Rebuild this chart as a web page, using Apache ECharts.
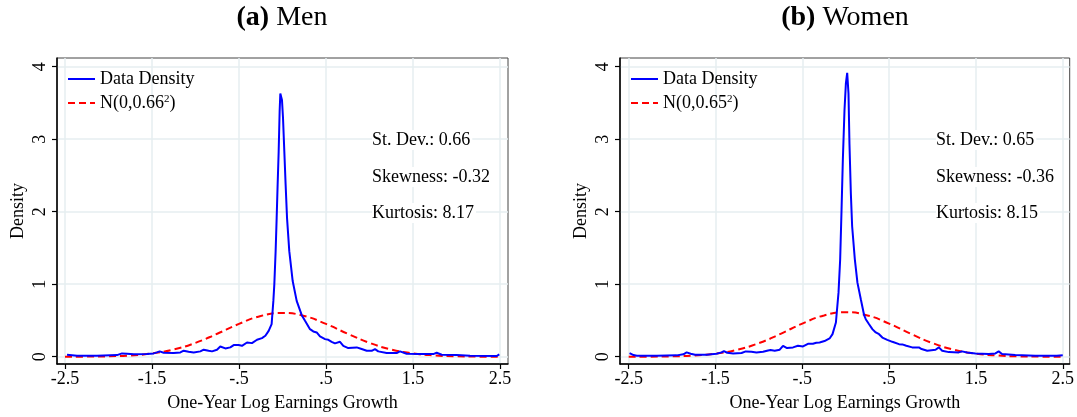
<!DOCTYPE html>
<html>
<head>
<meta charset="utf-8">
<script src="https://cdn.jsdelivr.net/npm/echarts@6/dist/echarts.min.js"></script>
<style>
  html, body { margin: 0; padding: 0; background: #fff; }
  #chart { width: 1077px; height: 417px; }
</style>
</head>
<body>
<div id="chart"></div>
<script>
// tick values and labels (Stata style: no leading zero)
var xTicks = [-2.5, -1.5, -0.5, 0.5, 1.5, 2.5];
var xTickLabels = ['-2.5', '-1.5', '-.5', '.5', '1.5', '2.5'];
var yTicks = [0, 1, 2, 3, 4];

// kernel density of one-year log earnings growth
var menDensity = [
  [-2.477, 0.028], [-2.362, 0.014], [-2.132, 0.014], [-1.902, 0.023], [-1.845, 0.046], [-1.825, 0.069],
  [-1.787, 0.042], [-1.71, 0.033], [-1.557, 0.037], [-1.481, 0.046], [-1.443, 0.06], [-1.412, 0.074],
  [-1.366, 0.055], [-1.251, 0.051], [-1.174, 0.06], [-1.136, 0.083], [-1.079, 0.069], [-1.021, 0.06],
  [-0.944, 0.074], [-0.906, 0.097], [-0.849, 0.083], [-0.81, 0.074], [-0.753, 0.097], [-0.715, 0.142],
  [-0.657, 0.115], [-0.6, 0.129], [-0.561, 0.161], [-0.504, 0.161], [-0.466, 0.151], [-0.408, 0.197],
  [-0.351, 0.188], [-0.293, 0.234], [-0.236, 0.257], [-0.197, 0.289], [-0.159, 0.357], [-0.125, 0.449],
  [-0.105, 0.77], [-0.094, 0.998], [-0.079, 1.456], [-0.067, 1.915], [-0.056, 2.37], [-0.044, 2.83],
  [-0.033, 3.38], [-0.025, 3.63], [-0.006, 3.54], [0.006, 3.29], [0.021, 2.83], [0.036, 2.37],
  [0.052, 1.915], [0.078, 1.456], [0.117, 1.044], [0.163, 0.77], [0.221, 0.573], [0.259, 0.495],
  [0.316, 0.38], [0.354, 0.349], [0.393, 0.335], [0.431, 0.28], [0.489, 0.243], [0.527, 0.234],
  [0.565, 0.206], [0.603, 0.184], [0.661, 0.206], [0.699, 0.151], [0.756, 0.12], [0.853, 0.129],
  [0.91, 0.106], [0.968, 0.082], [1.025, 0.082], [1.063, 0.106], [1.101, 0.074], [1.197, 0.051],
  [1.312, 0.051], [1.35, 0.074], [1.427, 0.041], [1.58, 0.037], [1.733, 0.037], [1.772, 0.055],
  [1.83, 0.027], [2.002, 0.023], [2.155, 0.014], [2.462, 0.01], [2.492, 0.033]
];
var womenDensity = [
  [-2.49, 0.051], [-2.444, 0.023], [-2.406, 0.014], [-2.176, 0.014], [-1.947, 0.019], [-1.87, 0.033],
  [-1.832, 0.06], [-1.813, 0.078], [-1.786, 0.042], [-1.736, 0.028], [-1.602, 0.028], [-1.488, 0.042],
  [-1.43, 0.06], [-1.403, 0.078], [-1.365, 0.055], [-1.296, 0.046], [-1.2, 0.051], [-1.151, 0.074],
  [-1.131, 0.092], [-1.086, 0.069], [-1.028, 0.06], [-0.952, 0.069], [-0.894, 0.087], [-0.867, 0.092],
  [-0.818, 0.083], [-0.76, 0.097], [-0.722, 0.151], [-0.676, 0.12], [-0.607, 0.129], [-0.55, 0.151],
  [-0.492, 0.142], [-0.435, 0.179], [-0.378, 0.179], [-0.339, 0.193], [-0.301, 0.197], [-0.244, 0.216],
  [-0.186, 0.252], [-0.152, 0.312], [-0.113, 0.472], [-0.083, 0.884], [-0.064, 1.342], [-0.048, 2.029],
  [-0.033, 2.716], [-0.014, 3.402], [0.002, 3.77], [0.017, 3.915], [0.032, 3.63], [0.043, 2.945],
  [0.059, 2.258], [0.074, 1.8], [0.105, 1.342], [0.135, 1.022], [0.174, 0.793], [0.212, 0.573],
  [0.231, 0.518], [0.269, 0.449], [0.307, 0.381], [0.346, 0.335], [0.384, 0.311], [0.422, 0.265],
  [0.479, 0.233], [0.537, 0.206], [0.614, 0.174], [0.652, 0.17], [0.671, 0.197], [0.698, 0.151],
  [0.766, 0.129], [0.843, 0.129], [0.874, 0.106], [0.939, 0.082], [1.035, 0.096], [1.073, 0.129],
  [1.111, 0.082], [1.188, 0.064], [1.302, 0.06], [1.34, 0.074], [1.36, 0.092], [1.398, 0.06],
  [1.494, 0.046], [1.647, 0.037], [1.724, 0.046], [1.762, 0.074], [1.8, 0.037], [1.953, 0.023],
  [2.183, 0.014], [2.431, 0.014], [2.5, 0.02]
];

// normal reference curves, sampled every 0.25
var normalX = [-2.5, -2.25, -2, -1.75, -1.5, -1.25, -1, -0.75, -0.5, -0.25, 0,
  0.25, 0.5, 0.75, 1, 1.25, 1.5, 1.75, 2, 2.25, 2.5];
var menNormal = [0.0005, 0.0018, 0.0061, 0.018, 0.046, 0.100, 0.192, 0.317, 0.453, 0.562, 0.604,
  0.562, 0.453, 0.317, 0.192, 0.100, 0.046, 0.018, 0.0061, 0.0018, 0.0005];
var womenNormal = [0.0004, 0.0015, 0.0054, 0.0164, 0.043, 0.097, 0.188, 0.316, 0.457, 0.570, 0.614,
  0.570, 0.457, 0.316, 0.188, 0.097, 0.043, 0.0164, 0.0054, 0.0015, 0.0004];

var menStats = ['St. Dev.: 0.66', 'Skewness: -0.32', 'Kurtosis: 8.17'];
var womenStats = ['St. Dev.: 0.65', 'Skewness: -0.36', 'Kurtosis: 8.15'];

var FONT = 'Liberation Serif';

function pairs(xs, ys) {
  return xs.map(function (x, i) { return [x, ys[i]]; });
}

function xLabel(v) {
  for (var i = 0; i < xTicks.length; i++) {
    if (Math.abs(xTicks[i] - v) < 1e-6) return xTickLabels[i];
  }
  return '';
}

function xAxisFor(idx, min, max) {
  return {
    gridIndex: idx, type: 'value', min: min, max: max,
    axisLine: { show: true, onZero: false, lineStyle: { color: '#000', width: 1.5 } },
    axisTick: { show: true, customValues: xTicks, length: 5, lineStyle: { color: '#000', width: 1.2 } },
    axisLabel: { customValues: xTicks, formatter: xLabel, fontFamily: FONT, fontSize: 18, color: '#000', margin: 6 },
    splitLine: { show: true, lineStyle: { color: '#e6eef0', width: 1.5 } },
    name: 'One-Year Log Earnings Growth', nameLocation: 'middle', nameGap: 30,
    nameTextStyle: { fontFamily: FONT, fontSize: 18, color: '#000' }
  };
}

function yAxisFor(idx) {
  return {
    gridIndex: idx, type: 'value', min: -0.1, max: 4.12,
    axisLine: { show: true, onZero: false, lineStyle: { color: '#000', width: 1.5 } },
    axisTick: { show: true, customValues: yTicks, length: 5, lineStyle: { color: '#000', width: 1.2 } },
    axisLabel: { customValues: yTicks, rotate: 90, fontFamily: FONT, fontSize: 18, color: '#000', margin: 8 },
    splitLine: { show: true, lineStyle: { color: '#e6eef0', width: 1.5 } },
    name: 'Density', nameLocation: 'middle', nameGap: 30, nameRotate: 90,
    nameTextStyle: { fontFamily: FONT, fontSize: 18, color: '#000' }
  };
}

function legendFor(left, normalName) {
  return {
    orient: 'vertical', left: left, top: 70, padding: 0,
    data: ['Data Density', normalName],
    itemWidth: 27, itemHeight: 12, itemGap: 6,
    itemStyle: { opacity: 0 },
    formatter: function (name) {
      if (name.indexOf('²') < 0) return '{t|' + name + '}';
      var parts = name.split('²');
      return '{t|' + parts[0] + '}{s|2}{t|' + parts[1] + '}';
    },
    textStyle: {
      fontFamily: FONT, fontSize: 18, color: '#000',
      rich: {
        t: { fontFamily: FONT, fontSize: 18, lineHeight: 18, color: '#000' },
        s: { fontFamily: FONT, fontSize: 11, lineHeight: 18, verticalAlign: 'top', color: '#000' }
      }
    }
  };
}

function statTexts(x, lines) {
  var ys = [140, 177, 213];
  return lines.map(function (t, i) {
    return {
      type: 'text', x: x, y: ys[i], z: 10,
      style: {
        text: t, font: '18px "' + FONT + '"', fill: '#000', textAlign: 'left', textVerticalAlign: 'middle',
        backgroundColor: '#fff', padding: [1, 2, 1, 0]
      }
    };
  });
}

function titleText(x, tag, word) {
  return {
    type: 'text', x: x, y: 18,
    style: {
      text: '{b|' + tag + '} {r|' + word + '}',
      textAlign: 'center', textVerticalAlign: 'middle',
      rich: {
        b: { fontFamily: FONT, fontSize: 28, fontWeight: 'bold', fill: '#000' },
        r: { fontFamily: FONT, fontSize: 28, fill: '#000' }
      },
      font: '28px "' + FONT + '"'
    }
  };
}

var chart = echarts.init(document.getElementById('chart'), null, { renderer: 'canvas' });
chart.setOption({
  animation: false,
  backgroundColor: '#fff',
  grid: [
    { left: 57, right: 569, top: 58, bottom: 52, show: true, borderColor: '#444', borderWidth: 1 },
    { left: 620, right: 6, top: 58, bottom: 52, show: true, borderColor: '#444', borderWidth: 1 }
  ],
  xAxis: [xAxisFor(0, -2.592, 2.592), xAxisFor(1, -2.6, 2.58)],
  yAxis: [yAxisFor(0), yAxisFor(1)],
  legend: [legendFor(67, 'N(0,0.66²)'), legendFor(630, 'N(0,0.65²)')],
  graphic: [
    titleText(282, '(a)', 'Men'),
    titleText(845, '(b)', 'Women')
  ].concat(statTexts(372, menStats), statTexts(936, womenStats)),
  series: [
    {
      name: 'N(0,0.66²)', type: 'line', xAxisIndex: 0, yAxisIndex: 0,
      data: pairs(normalX, menNormal), smooth: true, showSymbol: false, symbol: 'none',
      lineStyle: { color: '#ff0000', width: 2, type: [7, 4] }, itemStyle: { color: '#ff0000' }, z: 2
    },
    {
      name: 'Data Density', type: 'line', xAxisIndex: 0, yAxisIndex: 0,
      data: menDensity, showSymbol: false, symbol: 'none',
      lineStyle: { color: '#0000ff', width: 2 }, itemStyle: { color: '#0000ff' }, z: 3
    },
    {
      name: 'N(0,0.65²)', type: 'line', xAxisIndex: 1, yAxisIndex: 1,
      data: pairs(normalX, womenNormal), smooth: true, showSymbol: false, symbol: 'none',
      lineStyle: { color: '#ff0000', width: 2, type: [7, 4] }, itemStyle: { color: '#ff0000' }, z: 2
    },
    {
      name: 'Data Density', type: 'line', xAxisIndex: 1, yAxisIndex: 1,
      data: womenDensity, showSymbol: false, symbol: 'none',
      lineStyle: { color: '#0000ff', width: 2 }, itemStyle: { color: '#0000ff' }, z: 3
    }
  ]
});
</script>
</body>
</html>
